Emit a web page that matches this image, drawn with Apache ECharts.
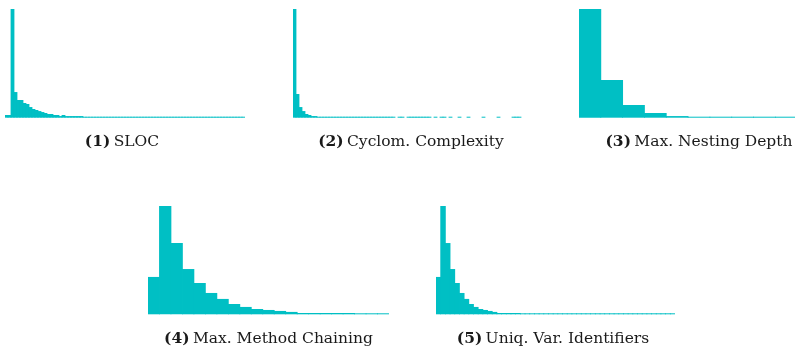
<!DOCTYPE html>
<html>
<head>
<meta charset="utf-8">
<script src="https://cdn.jsdelivr.net/npm/echarts@6/dist/echarts.min.js"></script>
<style>
  html, body { margin: 0; padding: 0; background: #ffffff; overflow: hidden; width: 795px; height: 350px; }
  #chart { width: 830px; height: 350px; }
</style>
</head>
<body>
<div id="chart"></div>
<script>
// Relative bin heights (% of the tallest bin). null = empty bin.
const slocBins = [
  2.5, 2.5, 100, 23.6, 16.3, 16.3, 13.5, 12.6, 9.8, 8.0, 7.1, 6.1, 5.2, 4.3, 3.4, 3.4, 2.5, 2.5, 1.5, 2.5,
  1.5, 1.5, 1.5, 1.5, 1.5, 1.5, 0.6, 0.6, 0.6, 0.6, 0.6, 0.6, 0.6, 0.6, 0.6, 0.6, 0.6, 0.6, 0.6, 0.6,
  0.6, 0.6, 0.6, 0.6, 0.3, 0.6, 0.3, 0.3, 0.3, 0.3, 0.3, 0.3, 0.3, 0.3, 0.3, 0.3, 0.3, 0.3, 0.3, 0.3,
  0.3, 0.3, 0.3, 0.3, 0.3, 0.3, 0.3, 0.3, 0.3, 0.3, 0.3, 0.3, 0.3, 0.3, 0.3, 0.3, 0.3, 0.3, 0.3, 0.3
];
const cycloBins = [
  100, 21.8, 9.8, 6.1, 3.4, 2.5, 1.5, 1.5, 0.6, 0.6, 0.6, 0.6, 0.6, 0.3, 0.3, 0.3, 0.3, 0.3, 0.3, 0.3,
  0.3, 0.3, 0.3, 0.3, 0.3, 0.3, 0.3, 0.3, 0.3, 0.3, 0.3, 0.3, 0.3, 0.3, null, 0.3, 0.3, null, 0.3, 0.3,
  0.3, 0.3, 0.3, 0.3, 0.3, 0.3, null, 0.3, null, 0.3, 0.3, null, 0.3, null, null, 0.3, null, null, 0.3, null,
  null, null, null, 0.3, null, null, null, null, 0.3, null, null, null, null, 0.3, 0.3, 0.3, null, null, null, null
];
const nestingBins = [100, 34.7, 11.7, 4.3, 1.5, 0.6, 0.3, 0.3, 0.3, 0.3, 0.3];
const chainingBins = [
  34.5, 100, 65.8, 41.8, 28.9, 19.7, 14.2, 9.5, 6.8, 4.9, 4.0, 3.1, 2.2, 1.2, 1.2, 1.2, 1.2, 1.2, 0.6, 0.6, 0.6
];
const uniqVarBins = [
  34.5, 100, 65.8, 41.8, 28.9, 19.7, 14.2, 9.5, 6.8, 4.9, 4.0, 3.1, 2.2, 1.2, 1.2, 1.2, 1.2, 1.2, 0.6, 0.6,
  0.6, 0.6, 0.6, 0.6, 0.6, 0.6, 0.6, 0.6, 0.6, 0.6, 0.6, 0.6, 0.6, 0.6, 0.6, 0.6, 0.6, 0.6, 0.6, 0.6,
  0.6, 0.6, 0.6, 0.6, 0.6, 0.6, 0.6, 0.6, 0.6, 0.6, 0.6
];
const panelNumbers = ['(1)', '(2)', '(3)', '(4)', '(5)'];
const panelNames = ['SLOC', 'Cyclom. Complexity', 'Max. Nesting Depth', 'Max. Method Chaining', 'Uniq. Var. Identifiers'];

const panels = [slocBins, cycloBins, nestingBins, chainingBins, uniqVarBins];
const grids = [
  { left: 5,   top: 9,   width: 240, height: 108.7 },
  { left: 293, top: 9,   width: 240, height: 108.7 },
  { left: 579, top: 9,   width: 240, height: 108.7 },
  { left: 148, top: 206, width: 241, height: 108.3 },
  { left: 436, top: 206, width: 239, height: 108.3 }
];
// extra overlap (in px) so adjacent bins merge without anti-aliasing seams
const overlapPx = 0.8;
const titlePos = [
  [122, 141.5], [411, 141.5], [699, 141.5], [268.5, 338.5], [553, 338.5]
];
const color = '#00BFC4';
const fontFamily = '"DejaVu Serif", serif';

const option = {
  animation: false,
  backgroundColor: '#ffffff',
  grid: grids.map(g => Object.assign({ containLabel: false }, g)),
  xAxis: panels.map((d, i) => ({
    type: 'category', gridIndex: i, show: false, boundaryGap: true,
    data: d.map((_, k) => String(k))
  })),
  yAxis: panels.map((d, i) => ({
    type: 'value', gridIndex: i, show: false, min: 0, max: 100,
    splitLine: { show: false }
  })),
  series: panels.map((d, i) => ({
    type: 'bar', xAxisIndex: i, yAxisIndex: i, data: d,
    barCategoryGap: (-overlapPx / (grids[i].width / d.length) * 100).toFixed(2) + '%',
    barGap: '0%', barMinHeight: 1,
    itemStyle: { color: color },
    silent: true
  })),
  graphic: panelNames.map((name, i) => ({
    type: 'text',
    x: titlePos[i][0], y: titlePos[i][1],
    style: {
      text: '{b|' + panelNumbers[i] + '} {n|' + name + '}',
      align: 'center', verticalAlign: 'middle',
      rich: {
        b: { fontFamily: fontFamily, fontSize: 15.5, fontWeight: 'bold', fill: '#1a1a1a' },
        n: { fontFamily: fontFamily, fontSize: 15.5, fill: '#1a1a1a' }
      }
    }
  }))
};

const chart = echarts.init(document.getElementById('chart'), null, { renderer: 'canvas' });
chart.setOption(option);
</script>
</body>
</html>
